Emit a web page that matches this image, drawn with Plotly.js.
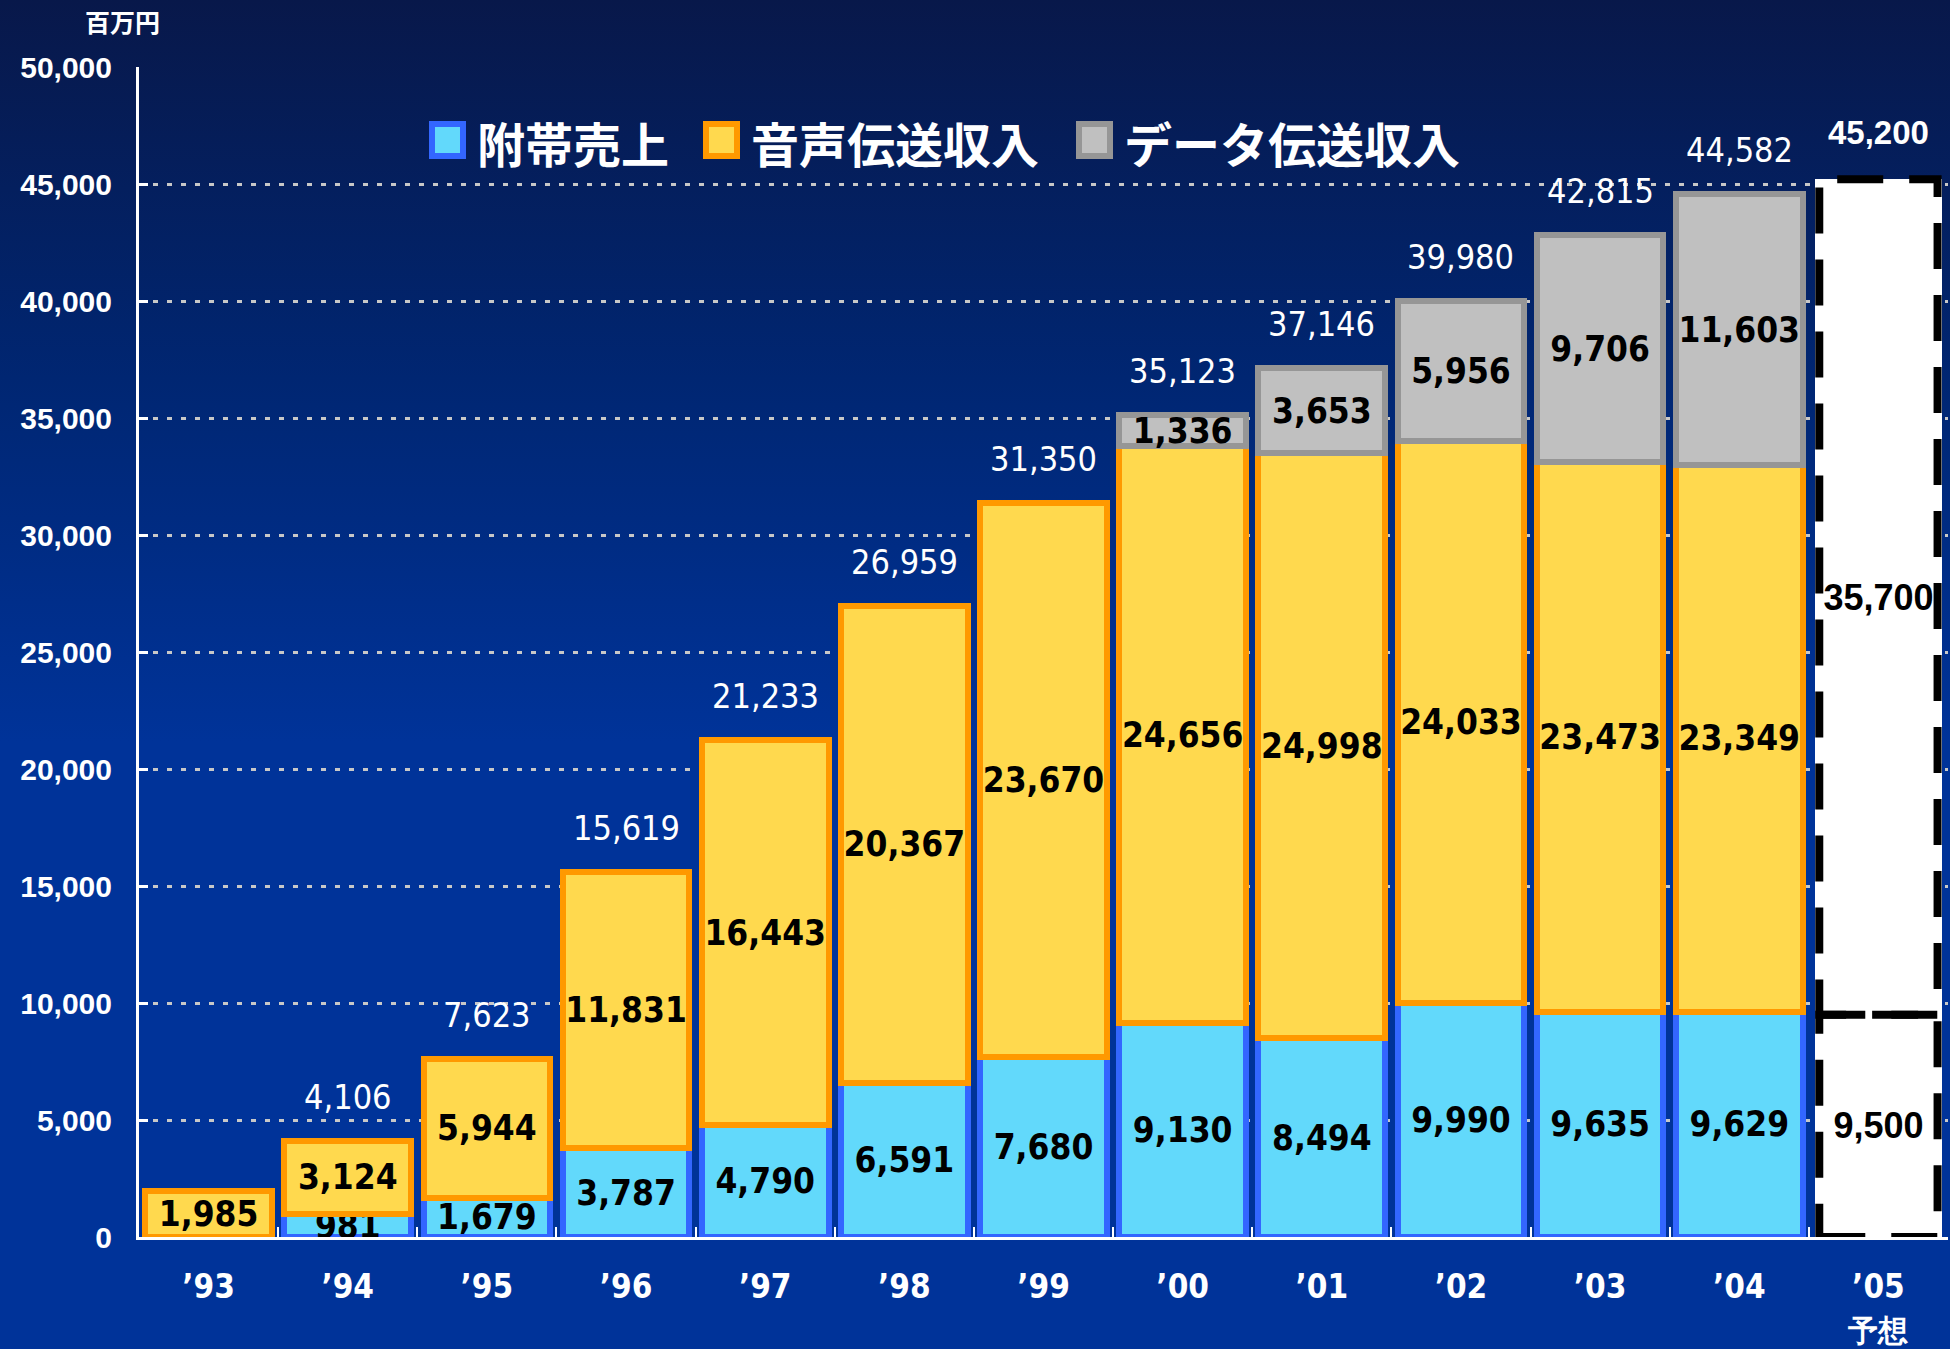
<!DOCTYPE html>
<html>
<head>
<meta charset="utf-8">
<script src="https://cdn.plot.ly/plotly-3.0.1.min.js"></script>
<style>
  html, body { margin: 0; padding: 0; }
  body {
    width: 1950px; height: 1349px; overflow: hidden;
    background: linear-gradient(to bottom, #08184a 0%, #002672 28%, #003399 55%, #003399 100%);
  }
  #chart { width: 1950px; height: 1349px; }
</style>
</head>
<body>
<div id="chart"></div>
<script>
// 年度（カテゴリ）
const years = ["’93", "’94", "’95", "’96", "’97", "’98", "’99", "’00", "’01", "’02", "’03", "’04"];
const forecastYear = "’05<br><span style='font-size:30px'>予想</span>";

// 系列の値（百万円）
const ancillary = [null, 981, 1679, 3787, 4790, 6591, 7680, 9130, 8494, 9990, 9635, 9629];
const voice = [1985, 3124, 5944, 11831, 16443, 20367, 23670, 24656, 24998, 24033, 23473, 23349];
const dataTx = [null, null, null, null, null, null, null, 1336, 3653, 5956, 9706, 11603];
const totals = [null, 4106, 7623, 15619, 21233, 26959, 31350, 35123, 37146, 39980, 42815, 44582];

// 予想
const forecastBase = [9500];
const forecastRest = [35700];
const forecastTotal = [45200];

const seriesNames = ["附帯売上", "音声伝送収入", "データ伝送収入"];
const unitLabel = "百万円";

// 見た目
const fillColors = ["#62d9fb", "#ffd94e", "#c0c0c0"];
const lineColors = ["#3366ff", "#ff9900", "#969696"];
const numFont = '"Liberation Sans Narrow", "DejaVu Sans Condensed", Roboto, sans-serif';
const wideFont = '"Liberation Sans", Arial, sans-serif';
const cjkFont = '"Noto Sans CJK JP", "Noto Sans", sans-serif';

// プロット領域（px）
const L = 139, R = 2, T = 67, B = 112, W = 1950, H = 1349;
const plotW = W - L - R, plotH = H - T - B;
const px = x => (x - L) / plotW;
const py = y => (H - B - y) / plotH;

const fmt = v => (v == null ? "" : v.toLocaleString("en-US"));

function barTrace(x, y, i) {
    return {
        type: "bar",
        x: x,
        y: y,
        name: seriesNames[i],
        marker: { color: fillColors[i], line: { color: lineColors[i], width: 6 } },
        text: y.map(fmt),
        textposition: "inside",
        insidetextanchor: "middle",
        textangle: 0,
        constraintext: "none",
        textfont: { family: numFont, size: 35, color: "#000000", weight: "bold" },
        hoverinfo: "skip"
    };
}

const traces = [
    barTrace(years, ancillary, 0),
    barTrace(years, voice, 1),
    barTrace(years, dataTx, 2)
];

// 予想の棒（白地）
[forecastBase, forecastRest].forEach(vals => {
    traces.push({
        type: "bar",
        x: [forecastYear],
        y: vals,
        marker: { color: "#ffffff", line: { width: 0 } },
        text: vals.map(fmt),
        textposition: "inside",
        insidetextanchor: "middle",
        textangle: 0,
        constraintext: "none",
        textfont: { family: wideFont, size: 36, color: "#000000", weight: "bold" },
        hoverinfo: "skip"
    });
});

const bargap = 0.09;
const allCats = years.concat([forecastYear]);

// 合計ラベル
const annotations = [];
years.forEach((yr, i) => {
    if (totals[i] == null) return;
    annotations.push({
        x: yr, y: totals[i], text: fmt(totals[i]),
        showarrow: false, yanchor: "bottom", yshift: 22,
        font: { family: numFont, size: 34, color: "#ffffff" }
    });
});
annotations.push({
    x: forecastYear, y: forecastTotal[0], text: fmt(forecastTotal[0]),
    showarrow: false, yanchor: "bottom", yshift: 26,
    font: { family: wideFont, size: 33, color: "#ffffff", weight: "bold" }
});

// 単位
annotations.push({
    xref: "paper", yref: "paper", x: px(122), y: py(21),
    text: unitLabel, showarrow: false, xanchor: "center", yanchor: "middle",
    font: { family: cjkFont, size: 25, color: "#ffffff", weight: "bold" }
});

// 凡例（四角＋文字）
const shapes = [];
const legendBoxX = [429, 703, 1076];
const legendY = 140;
seriesNames.forEach((name, i) => {
    shapes.push({
        type: "rect", xref: "paper", yref: "paper",
        x0: px(legendBoxX[i] + 3), x1: px(legendBoxX[i] + 34),
        y0: py(legendY + 16), y1: py(legendY - 16),
        fillcolor: fillColors[i], line: { color: lineColors[i], width: 6 }
    });
    annotations.push({
        xref: "paper", yref: "paper", x: px(legendBoxX[i] + 46), y: py(legendY + 2),
        text: name, showarrow: false, xanchor: "left", yanchor: "middle",
        font: { family: cjkFont, size: 48, color: "#ffffff", weight: "bold" }
    });
});

// 予想の棒の破線枠
const fIdx = years.length;
const halfW = (1 - bargap) / 2 - 0.03;
[[0, forecastBase[0]], [forecastBase[0], forecastTotal[0]]].forEach(([y0, y1]) => {
    shapes.push({
        type: "rect", xref: "x", yref: "y",
        x0: fIdx - halfW, x1: fIdx + halfW, y0: y0, y1: y1,
        line: { color: "#000000", width: 8, dash: "46px,26px" },
        fillcolor: "rgba(0,0,0,0)"
    });
});

const layout = {
    width: W, height: H,
    margin: { l: L, r: R, t: T, b: B },
    paper_bgcolor: "rgba(0,0,0,0)",
    plot_bgcolor: "rgba(0,0,0,0)",
    barmode: "stack",
    bargap: bargap,
    showlegend: false,
    xaxis: {
        type: "category",
        categoryorder: "array",
        categoryarray: allCats,
        range: [-0.5, allCats.length - 0.5],
        showline: true, linecolor: "#ffffff", linewidth: 3,
        ticks: "inside", tickson: "boundaries", ticklen: 10, tickcolor: "#ffffff", tickwidth: 2,
        ticklabelstandoff: 18,
        tickfont: { family: numFont, size: 33, color: "#ffffff", weight: "bold" },
        showgrid: false, zeroline: false, fixedrange: true
    },
    yaxis: {
        range: [0, 50000],
        dtick: 5000,
        tickformat: ",d",
        showline: true, linecolor: "#ffffff", linewidth: 3,
        ticks: "inside", ticklen: 9, tickcolor: "#ffffff", tickwidth: 3,
        ticklabelstandoff: 18,
        tickfont: { family: wideFont, size: 30, color: "#ffffff", weight: "bold" },
        showgrid: true, gridcolor: "#c8c8c8", gridwidth: 3, griddash: "5px,9px",
        zeroline: false, fixedrange: true
    },
    annotations: annotations,
    shapes: shapes
};

Plotly.newPlot("chart", traces, layout, { staticPlot: true, displayModeBar: false });
</script>
</body>
</html>
